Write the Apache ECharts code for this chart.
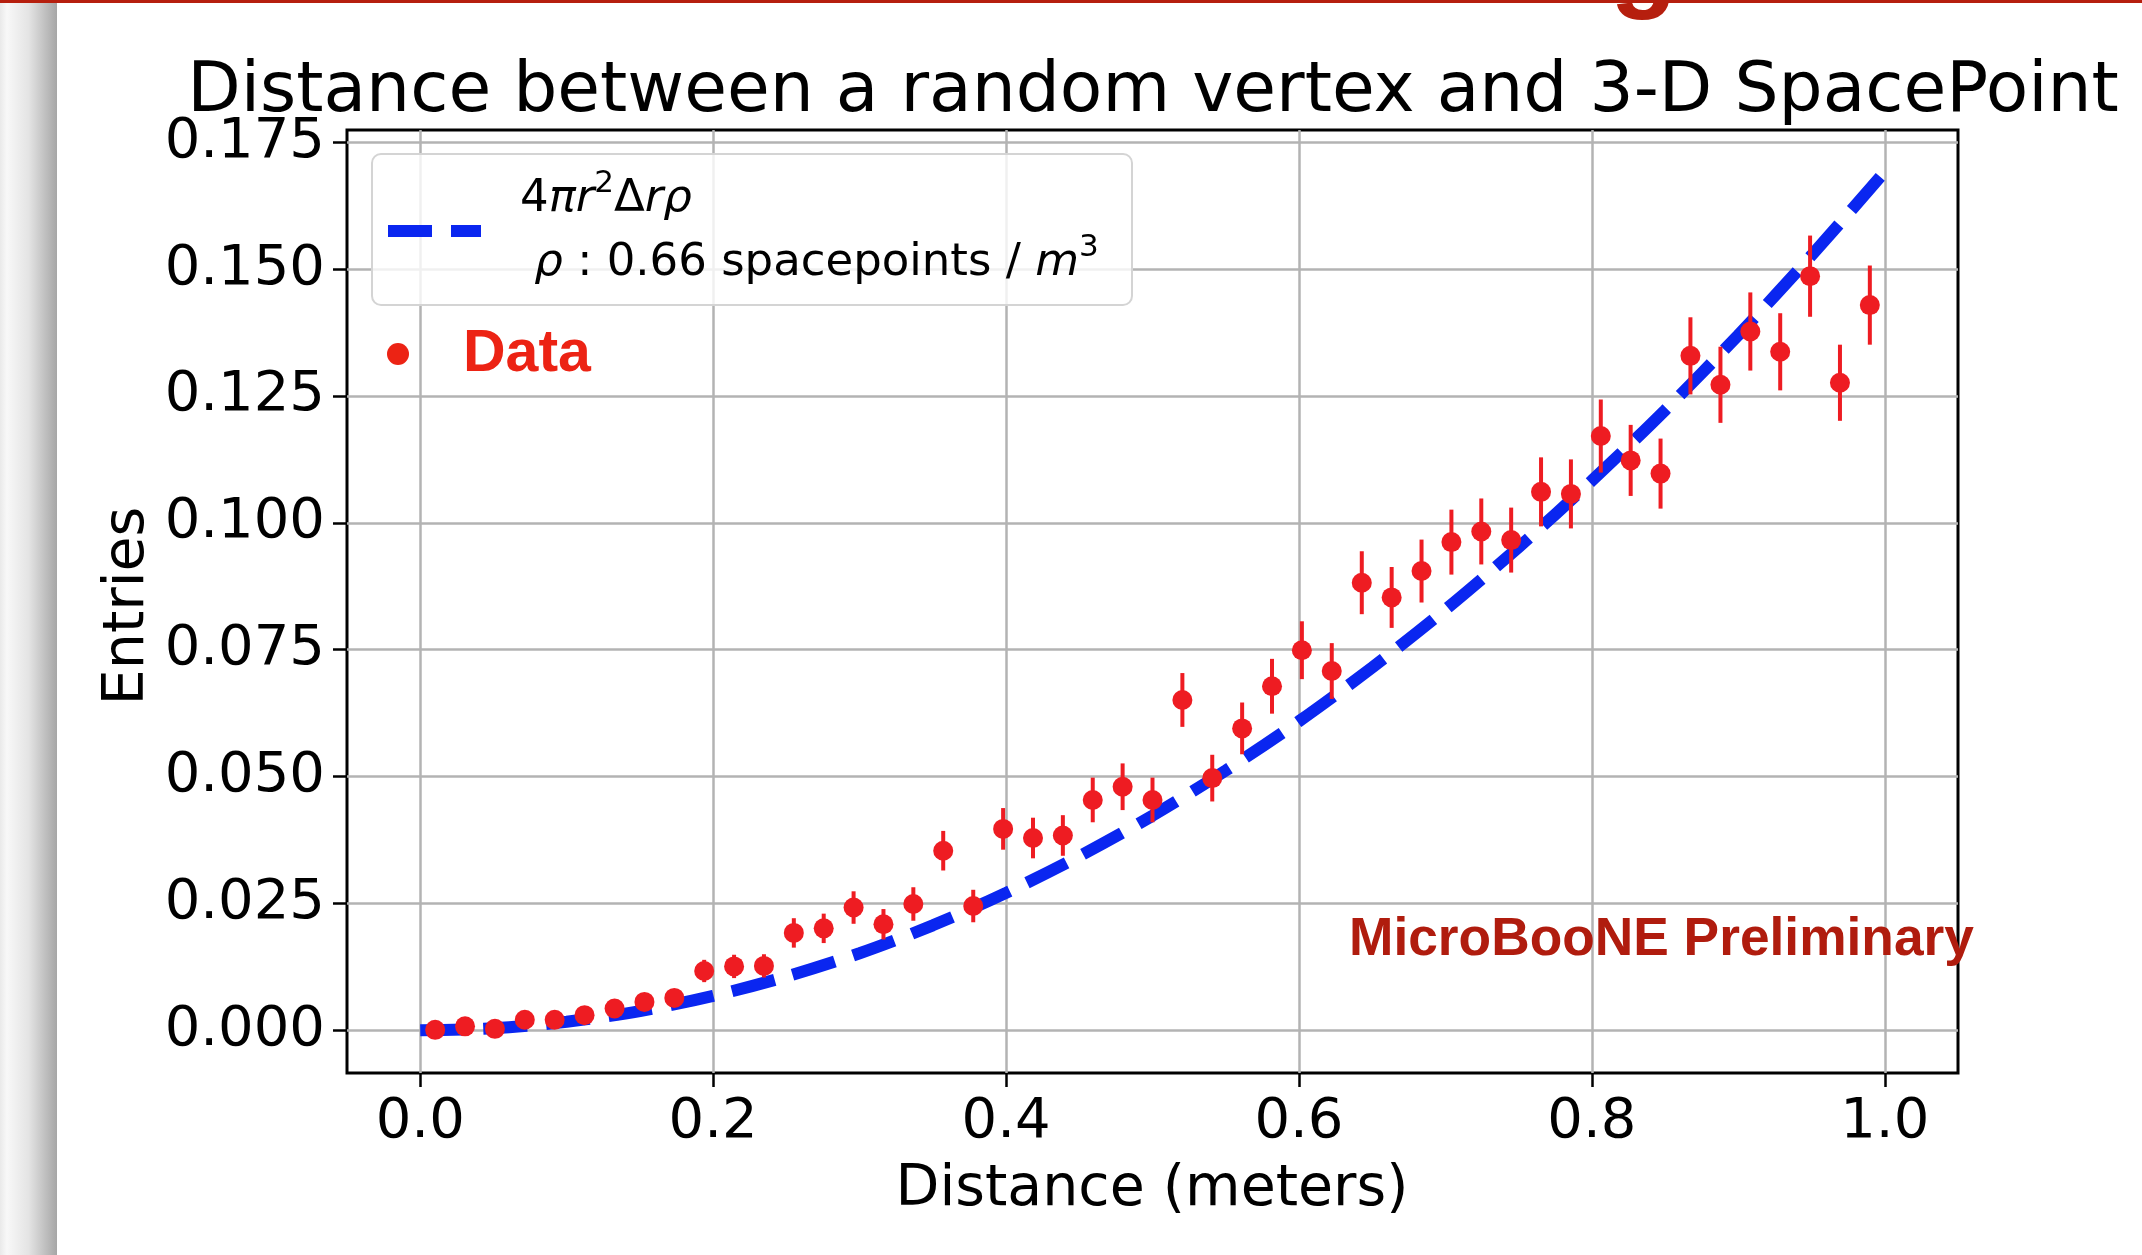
<!DOCTYPE html>
<html>
<head>
<meta charset="utf-8">
<script src="https://cdn.jsdelivr.net/npm/echarts@6/dist/echarts.min.js"></script>
<style>
html,body{margin:0;padding:0;background:#ffffff;}
#chart{width:2142px;height:1255px;}
</style>
</head>
<body>
<div id="chart"></div>
<script>
// ---- data ----
const binCenters = [0.0102, 0.0306, 0.0510, 0.0714, 0.0918, 0.1122, 0.1327, 0.1531, 0.1735, 0.1939,
  0.2143, 0.2347, 0.2551, 0.2755, 0.2959, 0.3163, 0.3367, 0.3571, 0.3776, 0.3980,
  0.4184, 0.4388, 0.4592, 0.4796, 0.5000, 0.5204, 0.5408, 0.5612, 0.5816, 0.6020,
  0.6224, 0.6429, 0.6633, 0.6837, 0.7041, 0.7245, 0.7449, 0.7653, 0.7857, 0.8061,
  0.8265, 0.8469, 0.8673, 0.8878, 0.9082, 0.9286, 0.9490, 0.9694, 0.9898];
const entries = [0.0001, 0.0008, 0.0003, 0.0021, 0.0021, 0.0030, 0.0043, 0.0056, 0.0064, 0.0117,
  0.0126, 0.0127, 0.0192, 0.0201, 0.0242, 0.0209, 0.0249, 0.0354, 0.0245, 0.0397,
  0.0379, 0.0384, 0.0454, 0.0480, 0.0454, 0.0651, 0.0497, 0.0595, 0.0678, 0.0749,
  0.0708, 0.0882, 0.0853, 0.0905, 0.0962, 0.0983, 0.0966, 0.1061, 0.1057, 0.1171,
  0.1123, 0.1097, 0.1329, 0.1272, 0.1377, 0.1337, 0.1486, 0.1276, 0.1429];
const entryErrors = [0.0002, 0.0006, 0.0004, 0.0009, 0.0009, 0.0011, 0.0013, 0.0015, 0.0016, 0.0022,
  0.0023, 0.0023, 0.0029, 0.0029, 0.0032, 0.0030, 0.0033, 0.0039, 0.0032, 0.0041,
  0.0040, 0.0040, 0.0044, 0.0046, 0.0044, 0.0053, 0.0046, 0.0051, 0.0054, 0.0057,
  0.0055, 0.0062, 0.0060, 0.0062, 0.0064, 0.0065, 0.0064, 0.0068, 0.0068, 0.0072,
  0.0070, 0.0069, 0.0076, 0.0075, 0.0077, 0.0076, 0.0080, 0.0075, 0.0078];
const curveR = [0, 0.05, 0.10, 0.15, 0.20, 0.25, 0.30, 0.35, 0.40, 0.45, 0.50,
  0.55, 0.60, 0.65, 0.70, 0.75, 0.80, 0.85, 0.90, 0.95, 1.00];
const curveValues = [0, 0.0004, 0.0017, 0.0038, 0.0068, 0.0106, 0.0152, 0.0207, 0.0271, 0.0343, 0.0423,
  0.0512, 0.0609, 0.0715, 0.0829, 0.0952, 0.1083, 0.1222, 0.1370, 0.1527, 0.1692];
const xTickValues = [0, 0.2, 0.4, 0.6, 0.8, 1.0];
const yTickValues = [0, 0.025, 0.05, 0.075, 0.1, 0.125, 0.15, 0.175];

const titleText = 'Distance between a random vertex and 3-D SpacePoint';
const xName = 'Distance (meters)';
const yName = 'Entries';
const curveName = '4πr²Δrρ';
const dataName = 'Data';
const stampText = 'MicroBooNE Preliminary';
// legend label pieces (t: text, it: italic, sup: superscript)
const legendLine1 = [{t: '4'}, {t: 'πr', it: true}, {t: '2', sup: true}, {t: 'Δ'}, {t: 'rρ', it: true}];
const legendLine2 = [{t: ' '}, {t: 'ρ', it: true}, {t: ' : 0.66 spacepoints / '}, {t: 'm', it: true}, {t: '3', sup: true}];

// ---- styling ----
const FONT = "'DejaVu Sans', sans-serif";
const RED = '#ee1c22';
const BLUE = '#0a26f0';
const GRID_L = 347, GRID_T = 130, GRID_W = 1611, GRID_H = 943;

const mctx = document.createElement('canvas').getContext('2d');
function textWidth(t, size, italic) {
  mctx.font = (italic ? 'italic ' : '') + size + "px 'DejaVu Sans'";
  return mctx.measureText(t).width;
}
function mathLine(parts, x0, yMain) {
  const out = [];
  let x = x0;
  parts.forEach(p => {
    const size = p.sup ? 31 : 45;
    const y = p.sup ? yMain - 15 : yMain;
    out.push({type: 'text', x: x, y: y, z: 21, silent: true,
      style: {text: p.t, fontFamily: FONT, fontSize: size, fontStyle: p.it ? 'italic' : 'normal',
        fill: '#000', align: 'left', verticalAlign: 'middle'}});
    x += textWidth(p.t, size, p.it);
  });
  return out;
}

const curveData = curveR.map((r, i) => [r, curveValues[i]]);
const pointData = binCenters.map((x, i) => [x, entries[i]]);
const errData = binCenters.map((x, i) => [x, entries[i] - entryErrors[i], entries[i] + entryErrors[i]]);

const chart = echarts.init(document.getElementById('chart'), null, {renderer: 'canvas'});
chart.setOption({
  animation: false,
  backgroundColor: '#ffffff',
  grid: {
    left: GRID_L, top: GRID_T, width: GRID_W, height: GRID_H,
    show: true, borderColor: '#000000', borderWidth: 3, backgroundColor: 'transparent',
    containLabel: false
  },
  xAxis: {
    type: 'value', min: -0.05, max: 1.05,
    axisLine: {show: false, onZero: false},
    axisTick: {show: true, customValues: xTickValues, length: 14, lineStyle: {color: '#000', width: 2.5}},
    axisLabel: {customValues: xTickValues, margin: 21, fontSize: 56, fontFamily: FONT, color: '#000',
      formatter: v => v.toFixed(1)},
    splitLine: {show: true, lineStyle: {color: '#b3b3b3', width: 2.5}}
  },
  yAxis: {
    type: 'value', min: -0.0084, max: 0.1774,
    axisLine: {show: false, onZero: false},
    axisTick: {show: true, customValues: yTickValues, length: 14, lineStyle: {color: '#000', width: 2.5}},
    axisLabel: {customValues: yTickValues, margin: 22, fontSize: 56, fontFamily: FONT, color: '#000',
      formatter: v => v.toFixed(3)},
    splitLine: {show: true, lineStyle: {color: '#b3b3b3', width: 2.5}}
  },
  series: [
    {
      name: curveName, type: 'line', data: curveData, showSymbol: false, smooth: 0.3, z: 2,
      lineStyle: {color: BLUE, width: 12, type: [44, 19], cap: 'butt'}
    },
    {
      name: 'errors', type: 'custom', data: errData, z: 3,
      renderItem: function (params, api) {
        const p1 = api.coord([api.value(0), api.value(1)]);
        const p2 = api.coord([api.value(0), api.value(2)]);
        return {type: 'line', shape: {x1: p1[0], y1: p1[1], x2: p2[0], y2: p2[1]},
          style: {stroke: RED, lineWidth: 4}};
      }
    },
    {
      name: dataName, type: 'scatter', data: pointData, symbol: 'circle', symbolSize: 20, z: 4,
      itemStyle: {color: RED, opacity: 1}
    }
  ],
  graphic: [
    // slide decorations
    {type: 'rect', shape: {x: 0, y: 0, width: 57, height: 1255}, z: 0, silent: true,
      style: {fill: {type: 'linear', x: 0, y: 0, x2: 1, y2: 0, colorStops: [
        {offset: 0, color: '#e9e9e9'}, {offset: 0.12, color: '#f8f8f8'},
        {offset: 0.5, color: '#e4e4e4'}, {offset: 1, color: '#a6a6a6'}]}}},
    {type: 'rect', shape: {x: 0, y: 0, width: 2142, height: 3}, z: 10, silent: true, style: {fill: '#b61f0e'}},
    {type: 'text', x: 1610, y: -33, z: 10, silent: true,
      style: {text: 'g', font: "bold 110px 'Liberation Sans', Arial, sans-serif", fill: '#b61f0e',
        align: 'left', verticalAlign: 'middle'}},
    // title
    {type: 'text', x: 1153, y: 93, z: 10, silent: true,
      style: {text: titleText, fontFamily: FONT, fontSize: 69.5, fill: '#000', align: 'center', verticalAlign: 'middle'}},
    // axis names
    {type: 'text', x: 1152, y: 1190, z: 10, silent: true,
      style: {text: xName, fontFamily: FONT, fontSize: 57, fill: '#000', align: 'center', verticalAlign: 'middle'}},
    {type: 'text', x: 128, y: 606, rotation: Math.PI / 2, z: 10, silent: true,
      style: {text: yName, fontFamily: FONT, fontSize: 57, fill: '#000', align: 'center', verticalAlign: 'middle'}},
    // legend box
    {type: 'rect', shape: {x: 372, y: 154, width: 760, height: 151, r: 9}, z: 20, silent: true,
      style: {fill: 'rgba(255,255,255,0.8)', stroke: '#d4d4d4', lineWidth: 2}},
    {type: 'line', shape: {x1: 388, y1: 231, x2: 481, y2: 231}, z: 21, silent: true,
      style: {stroke: BLUE, lineWidth: 12, lineDash: [44, 19], lineCap: 'butt'}},
    ...mathLine(legendLine1, 520, 199),
    ...mathLine(legendLine2, 520, 263),
    // Data annotation
    {type: 'circle', shape: {cx: 398, cy: 354, r: 11}, z: 21, silent: true, style: {fill: '#ec2314'}},
    {type: 'text', x: 463, y: 355, z: 21, silent: true,
      style: {text: dataName, font: "bold 59px 'Liberation Sans', Arial, sans-serif", fill: '#ec2314',
        align: 'left', verticalAlign: 'middle'}},
    // stamp
    {type: 'text', x: 1349, y: 940, z: 21, silent: true,
      style: {text: stampText, font: "bold 53.3px 'Liberation Sans', Arial, sans-serif", fill: '#b01c0e',
        align: 'left', verticalAlign: 'middle'}}
  ]
});
</script>
</body>
</html>
